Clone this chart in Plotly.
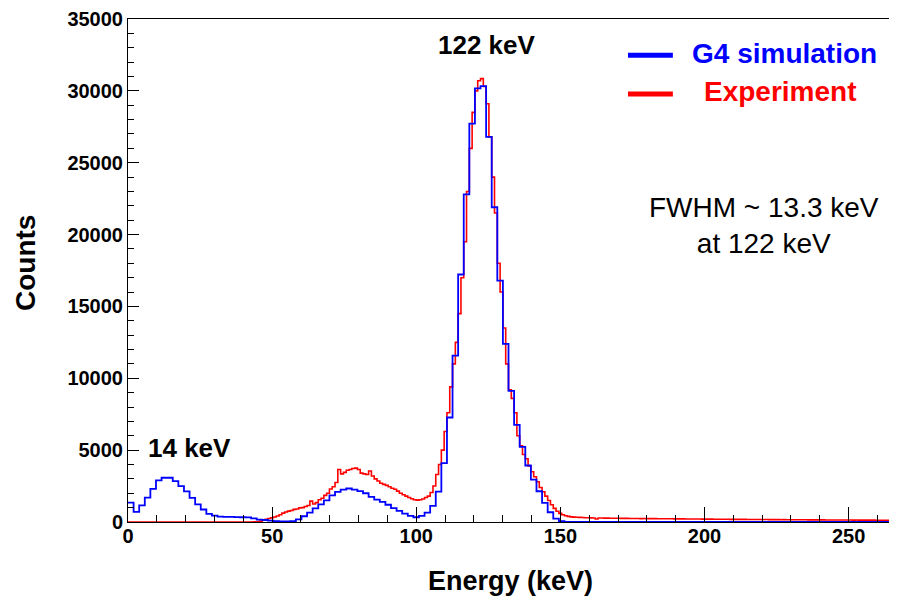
import numpy as np
import plotly.graph_objects as go

# ---------------- data ----------------
E_MIN, E_MAX = 0.0, 264.0

# G4 simulation: 136 bins over 0-264 keV
sim_counts = [
    1350, 700, 1150, 1700, 2300, 2900, 3080, 3080, 2850, 2500,
    2130, 1680, 1220, 870, 560, 440, 380, 360, 350, 340,
    330, 320, 250, 170, 140, 100, 60, 40, 40, 60,
    180, 400, 650, 950, 1230, 1510, 1850, 2100, 2250, 2330,
    2250, 2150, 2000, 1750, 1550, 1400, 1200, 960, 770, 580,
    420, 330, 420, 650, 1120, 2110, 4090, 7270, 11570, 17220,
    22800, 27720, 30170, 30330, 26800, 21900, 16800, 12390, 9130, 6760,
    5230, 3930, 2950, 2140, 1330, 680, 240, 60, 15, 5,
    0, 0, 0, 0, 0, 0, 0, 0, 0, 0,
    0, 0, 0, 0, 0, 0, 0, 0, 0, 0,
    0, 0, 0, 0, 0, 0, 0, 0, 0, 0,
    0, 0, 0, 0, 0, 0, 0, 0, 0, 0,
    0, 0, 0, 0, 0, 0, 0, 0, 0, 0,
    0, 0, 0, 0, 0, 0,
]

# Experiment: 272 bins over 0-264 keV
exp_counts = [
    0, 0, 0, 0, 0, 0, 0, 0, 0, 0,
    0, 0, 0, 0, 0, 0, 0, 0, 0, 0,
    0, 0, 0, 0, 0, 0, 0, 0, 0, 0,
    0, 0, 0, 0, 0, 0, 0, 0, 0, 0,
    0, 0, 0, 0, 0, 10, 20, 60, 120, 180,
    240, 300, 350, 420, 500, 620, 700, 760, 800, 880,
    900, 980, 1000, 1080, 1150, 1450, 1250, 1350, 1550, 1650,
    1850, 2000, 2300, 2450, 2750, 3650, 3350, 3450, 3600, 3650,
    3720, 3750, 3650, 3400, 3350, 3300, 3550, 3200, 3000, 2850,
    2700, 2620, 2550, 2450, 2350, 2280, 2150, 2000, 1900, 1800,
    1700, 1620, 1550, 1520, 1550, 1600, 1700, 1800, 2050, 2500,
    3300, 4000, 5000, 6300, 7600, 9400, 11000, 12500, 14500, 17000,
    19500, 23000, 26000, 28500, 30000, 30700, 30850, 30300, 29100, 26800,
    24000, 21500, 18000, 16000, 13500, 11000, 9200, 8600, 7600, 6000,
    5300, 4700, 4400, 3900, 3500, 3150, 2800, 2400, 2100, 1800,
    1500, 1200, 950, 750, 600, 500, 440, 390, 360, 340,
    330, 320, 310, 300, 295, 290, 280, 210, 280, 275,
    270, 268, 262, 265, 258, 260, 255, 250, 252, 248,
    248, 243, 245, 238, 240, 236, 235, 232, 234, 228,
    230, 226, 225, 222, 224, 218, 220, 215, 216, 212,
    212, 208, 210, 205, 206, 202, 203, 198, 200, 196,
    196, 193, 194, 190, 190, 186, 187, 183, 184, 180,
    180, 177, 178, 174, 175, 172, 172, 169, 170, 166,
    167, 164, 165, 161, 162, 159, 160, 156, 157, 154,
    155, 152, 152, 149, 150, 147, 148, 145, 146, 143,
    144, 141, 142, 139, 140, 137, 138, 135, 136, 133,
    134, 131, 132, 129, 130, 127, 128, 125, 126, 123,
    124, 122,
]

legend_labels = ["G4 simulation", "Experiment"]
x_title = "Energy (keV)"
y_title = "Counts"
peak_labels = ["122 keV", "14 keV"]
fwhm_text = "FWHM ~ 13.3 keV<br>at 122 keV"

# ---------------- helpers ----------------
def step_xy(counts):
    n = len(counts)
    edges = np.linspace(E_MIN, E_MAX, n + 1)
    x = list(edges)
    y = list(counts) + [counts[-1]]
    return x, y

FONT = "Liberation Sans, Arial, Helvetica, sans-serif"

fig = go.Figure()
xe, ye = step_xy(exp_counts)
fig.add_trace(go.Scatter(x=xe, y=ye, mode="lines", line=dict(color="#ff0000", width=1.6, shape="hv"),
                         name=legend_labels[1], showlegend=False))
xs, ys = step_xy(sim_counts)
fig.add_trace(go.Scatter(x=xs, y=ys, mode="lines", line=dict(color="#0000ff", width=1.8, shape="hv"),
                         name=legend_labels[0], showlegend=False))

axis_common = dict(showline=True, linecolor="black", linewidth=1, mirror=True,
                   ticks="inside", tickcolor="black", tickwidth=1,
                   showgrid=False, zeroline=False, automargin=False,
                   tickfont=dict(family=FONT, size=20, color="black", weight="bold"))

fig.update_xaxes(range=[E_MIN, E_MAX], dtick=50, tick0=0, ticklen=15, ticklabelstandoff=-4,
                 minor=dict(ticks="inside", ticklen=7, dtick=10, tickcolor="black", showgrid=False),
                 **axis_common)
fig.update_yaxes(range=[0, 35000], dtick=5000, tick0=0, ticklen=11, tickformat="d",
                 minor=dict(ticks="inside", ticklen=6, dtick=1000, tickcolor="black", showgrid=False),
                 **axis_common)

def A(text, x, y, ref, size, color="black", bold=True, angle=0):
    return dict(text=text, x=x, y=y, xref="paper" if ref == "paper" else "x",
                yref="paper" if ref == "paper" else "y", showarrow=False,
                xanchor="center", yanchor="middle", textangle=angle, align="center",
                font=dict(family=FONT, size=size, color=color, weight="bold" if bold else "normal"))

ann = [
    A(peak_labels[0], 124.7, 33200, "data", 26),
    A(peak_labels[1], 21.3, 5150, "data", 26),
    A(fwhm_text, 220.7, 20650, "data", 28, bold=False),
    A(legend_labels[0], 0.863, 0.932, "paper", 28, color="#0000ff"),
    A(legend_labels[1], 0.858, 0.855, "paper", 28, color="#ff0000"),
    A(x_title, 0.502, -0.117, "paper", 27),
    A(y_title, -0.134, 0.515, "paper", 28, angle=-90),
]

shapes = [
    dict(type="line", xref="paper", yref="paper", x0=0.657, x1=0.716, y0=0.928, y1=0.928,
         line=dict(color="#0000ff", width=5)),
    dict(type="line", xref="paper", yref="paper", x0=0.657, x1=0.716, y0=0.851, y1=0.851,
         line=dict(color="#ff0000", width=5)),
]

# page body has an 8px margin: shift figure so the plot frame lands at x 128-889, y 19-522
fig.update_layout(width=889, height=590, margin=dict(l=120, r=8, t=11, b=76),
                  paper_bgcolor="white", plot_bgcolor="white",
                  annotations=ann, shapes=shapes, showlegend=False,
                  font=dict(family=FONT))

fig.write_html("out.html")
